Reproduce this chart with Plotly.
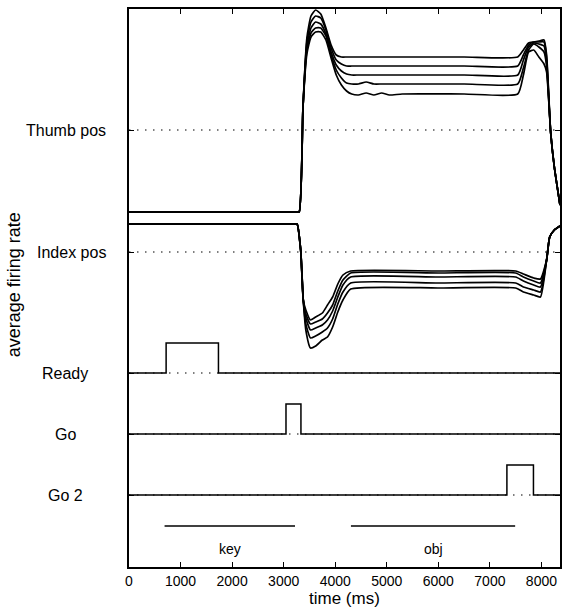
import plotly.graph_objects as go

# ---------------------------------------------------------------------------
# Data: population firing rates (arbitrary rate units) over one trial
# ---------------------------------------------------------------------------
t_end = 8360

# Thumb position units (five trials/conditions)
thumb_t = [0, 1500, 3240, 3300, 3375, 3450, 3530, 3620, 3720, 3820, 3920, 4020, 4120, 4220, 4320,
           4450, 4600, 4750, 4900, 5050, 5300, 6500,
           7540, 7650, 7750, 7850, 7950, 8050, 8100, 8180, 8250, 8360]
thumb_a = [0, 0, 0, 0, 105, 174, 196, 202, 198, 184, 167, 157, 155, 155, 155,
           155, 155, 155, 155, 155, 155, 155,
           155, 162, 169, 170, 171, 172, 157, 79, 45, 7]
thumb_b = [0, 0, 0, 0, 105, 170, 190, 196, 194, 182, 164, 152, 148, 146, 146,
           146, 146, 146, 146, 146, 146, 146,
           146, 157, 167, 170, 170, 170, 154, 79, 45, 7]
thumb_c = [0, 0, 0, 0, 105, 166, 184, 190, 188, 178, 160, 147, 141, 138, 137,
           137, 137, 137, 137, 137, 137, 137,
           137, 152, 165, 169, 168, 166, 150, 79, 45, 7]
thumb_d = [0, 0, 0, 0, 105, 162, 179, 184, 184, 176, 157, 142, 134, 129, 128,
           128, 130, 128, 128, 128, 128, 128,
           128, 144, 162, 168, 165, 160, 146, 79, 45, 7]
thumb_e = [0, 0, 0, 0, 105, 158, 175, 180, 180, 172, 154, 137, 127, 121, 118,
           117, 119, 117, 119, 117, 118, 118,
           118, 137, 160, 162, 155, 148, 140, 79, 45, 7]
thumb_ref = 82

# Index position units (five trials/conditions)
index_t = [0, 1500, 3200, 3260, 3330, 3380, 3430, 3520, 3620, 3750, 3850, 3950, 4050, 4150, 4300,
           6000, 7500, 7650, 7850, 7980, 8100, 8160, 8250, 8360]
index_a = [136, 136, 136, 136, 110, 60, 50, 40, 43, 47, 55, 63, 76, 85, 89,
           89, 89, 86, 82, 81, 100, 123, 130, 134]
index_b = [136, 136, 136, 136, 110, 60, 46, 36, 38, 41, 47, 55, 69, 80, 87,
           87, 87, 83, 79, 77, 100, 123, 130, 134]
index_c = [136, 136, 136, 136, 110, 60, 42, 30, 32, 35, 40, 49, 63, 75, 83,
           83, 83, 79, 75, 73, 100, 123, 130, 134]
index_d = [136, 136, 136, 136, 110, 60, 36, 22, 24, 28, 32, 41, 56, 68, 77,
           77, 77, 73, 70, 68, 100, 123, 130, 134]
index_e = [136, 136, 136, 136, 110, 60, 30, 12, 14, 20, 23, 33, 48, 60, 71,
           72, 72, 68, 65, 63, 100, 123, 130, 134]
index_ref = 108

# Cue units: rectangular pulses
cue_names = ["Ready", "Go", "Go 2"]
cue_on = [720, 3045, 7330]
cue_off = [1735, 3335, 7845]
cue_height = 30

# Task epochs
epoch_names = ["key", "obj"]
epoch_start = [690, 4305]
epoch_end = [3220, 7490]

# Vertical offsets that stack the channels on one axis
thumb_offset = 355
index_offset = 207
cue_offsets = [194, 133, 72]
epoch_level = 41
epoch_label_level = 18
y_top = 558

FONT = "Liberation Sans, Arial, Helvetica, sans-serif"
BLACK = "#000000"

fig = go.Figure()


def dotted(y):
    fig.add_trace(go.Scatter(
        x=[0, t_end], y=[y, y], mode="lines",
        line=dict(color=BLACK, width=1.2, dash="1.5px,6.5px"),
        hoverinfo="skip", showlegend=False))


def solid(x, y, width=1.7):
    fig.add_trace(go.Scatter(
        x=x, y=y, mode="lines",
        line=dict(color=BLACK, width=width, shape="spline", smoothing=0.5),
        hoverinfo="skip", showlegend=False))


# Reference (dotted) lines
dotted(thumb_offset + thumb_ref)
dotted(index_offset + index_ref)
for off in cue_offsets:
    dotted(off)

# Thumb and index population traces
for curve in [thumb_a, thumb_b, thumb_c, thumb_d, thumb_e]:
    solid(thumb_t, [thumb_offset + v for v in curve])
for curve in [index_a, index_b, index_c, index_d, index_e]:
    solid(index_t, [index_offset + v for v in curve])

# Cue pulses
for on, off, base in zip(cue_on, cue_off, cue_offsets):
    fig.add_trace(go.Scatter(
        x=[0, on, on, off, off, t_end],
        y=[base, base, base + cue_height, base + cue_height, base, base],
        mode="lines", line=dict(color=BLACK, width=1.5),
        hoverinfo="skip", showlegend=False))

# Epoch bars and labels
for name, s, e in zip(epoch_names, epoch_start, epoch_end):
    fig.add_trace(go.Scatter(
        x=[s, e], y=[epoch_level, epoch_level], mode="lines",
        line=dict(color=BLACK, width=1.6),
        hoverinfo="skip", showlegend=False))
    fig.add_annotation(x=(s + e) / 2, y=epoch_label_level, xref="x", yref="y",
                       text=name, showarrow=False,
                       font=dict(family=FONT, size=14, color=BLACK))

# Row labels
row_labels = [("Thumb pos", thumb_offset + thumb_ref, "right", -21),
              ("Index pos", index_offset + index_ref, "right", -21)]
row_labels += [(n, o, "center", -64) for n, o in zip(cue_names, cue_offsets)]
for text, yv, anchor, shift in row_labels:
    fig.add_annotation(x=0, y=yv, xref="paper", yref="y", text=text,
                       xanchor=anchor, yanchor="middle", xshift=shift,
                       showarrow=False,
                       font=dict(family=FONT, size=16, color=BLACK))

# Axis titles
fig.add_annotation(x=0.5, y=0, xref="paper", yref="paper", text="time (ms)",
                   xanchor="center", yanchor="middle", yshift=-31,
                   showarrow=False, font=dict(family=FONT, size=17, color=BLACK))
fig.add_annotation(x=0, y=0.505, xref="paper", yref="paper",
                   text="average firing rate", textangle=-90,
                   xanchor="center", yanchor="middle", xshift=-115,
                   showarrow=False, font=dict(family=FONT, size=18, color=BLACK))

fig.update_xaxes(
    range=[0, t_end], tickvals=list(range(0, 9000, 1000)),
    ticks="inside", ticklen=5, tickwidth=1.2, tickcolor=BLACK,
    showline=True, linecolor=BLACK, linewidth=1.5, mirror="allticks",
    showgrid=False, zeroline=False,
    tickfont=dict(family=FONT, size=14, color=BLACK))
fig.update_yaxes(
    range=[0, y_top],
    tickvals=[thumb_offset + thumb_ref, index_offset + index_ref] + cue_offsets,
    ticks="inside", ticklen=5, tickwidth=1.2, tickcolor=BLACK,
    showticklabels=False,
    showline=True, linecolor=BLACK, linewidth=1.5, mirror="allticks",
    showgrid=False, zeroline=False)

fig.update_layout(
    width=564, height=613,
    margin=dict(l=129, r=2, t=9, b=46),
    paper_bgcolor="white", plot_bgcolor="white",
    font=dict(family=FONT, color=BLACK),
    showlegend=False)

fig.write_html("out.html")
